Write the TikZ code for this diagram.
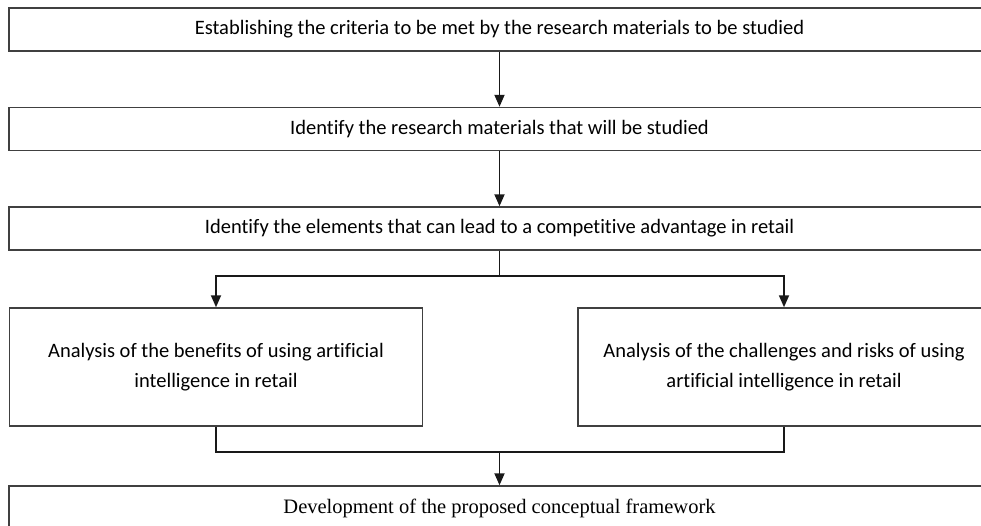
\documentclass[tikz,border=0pt]{standalone}
\usepackage{fontspec}
\setmainfont{Carlito}[Ligatures=NoCommon]
\newfontfamily\timesfont{Liberation Serif}
\usetikzlibrary{arrows.meta}
\begin{document}
\begin{tikzpicture}[x=1pt,y=-1pt,
  box/.style={draw=black!75,line width=1.5pt,fill=white,inner sep=0pt,align=center,
    font=\fontsize{20.5}{30}\selectfont},
  arr/.style={draw=black!90,line width=1.8pt,-{Triangle[length=12pt,width=10pt]}},
  link/.style={draw=black!90,line width=1.8pt}]
\useasboundingbox (0,0) rectangle (981,525);
\clip (0,0) rectangle (981,525);
\fill[white] (0,0) rectangle (981,525);
\node[box,minimum width=981pt,minimum height=43pt] (b1) at (499.5,29.5)
  {Establishing the criteria to be met by the research materials to be studied};
\node[box,minimum width=981pt,minimum height=43pt] (b2) at (499.5,129)
  {Identify the research materials that will be studied};
\node[box,minimum width=981pt,minimum height=43pt] (b3) at (499.5,228.5)
  {Identify the elements that can lead to a competitive advantage in retail};
\node[box,minimum width=413pt,minimum height=118pt] (bl) at (216,367)
  {Analysis of the benefits of using artificial\\intelligence in retail};
\node[box,minimum width=412pt,minimum height=118pt] (br) at (784,367)
  {Analysis of the challenges and risks of using\\artificial intelligence in retail};
\node[box,minimum width=981pt,minimum height=44pt,font=\timesfont\fontsize{20.5}{24}\selectfont] (b5) at (499.5,508)
  {Development of the proposed conceptual framework};
\coordinate (split) at (499.5,276);
\coordinate (merge) at (499.5,452);
\draw[arr] (b1.south) -- (b2.north);
\draw[arr] (b2.south) -- (b3.north);
\draw[link] (b3.south) -- (split);
\draw[arr] (split) -| (bl.north);
\draw[arr] (split) -| (br.north);
\draw[link] (bl.south) |- (merge) -| (br.south);
\draw[arr] (merge) -- (b5.north);
\end{tikzpicture}
\end{document}
